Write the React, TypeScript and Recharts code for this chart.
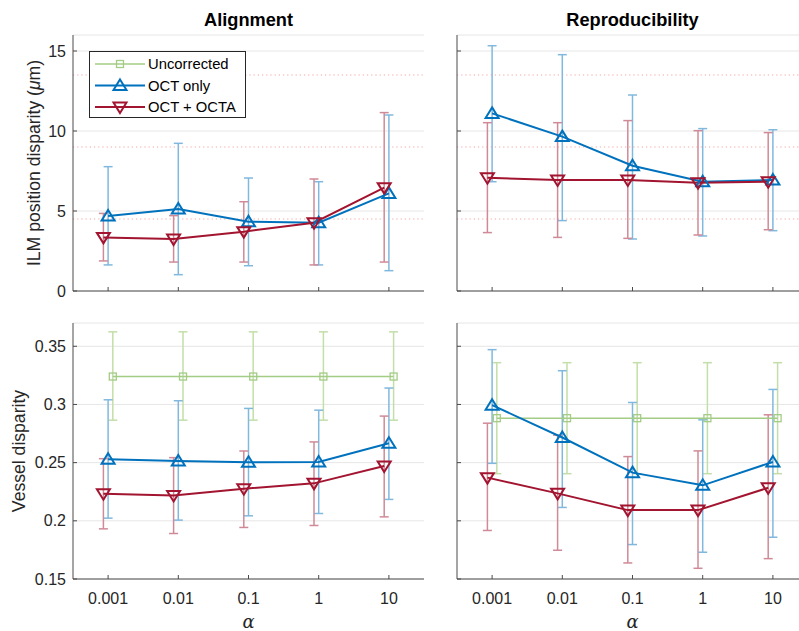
import React from "react";
import {
  LineChart,
  Line,
  XAxis,
  YAxis,
  CartesianGrid,
  ErrorBar,
  ReferenceLine,
  Label,
} from "recharts";

const ALPHA_LABELS = ["0.001", "0.01", "0.1", "1", "10"];

// ILM position disparity (um) - Alignment
const ALIGN_ILM_OCT = [4.69, 5.13, 4.33, 4.27, 6.1];
const ALIGN_ILM_OCT_LO = [1.63, 1.02, 1.58, 1.63, 1.27];
const ALIGN_ILM_OCT_HI = [7.77, 9.23, 7.06, 6.83, 11.0];
const ALIGN_ILM_OCTA = [3.35, 3.25, 3.71, 4.27, 6.46];
const ALIGN_ILM_OCTA_LO = [1.88, 1.81, 1.81, 1.63, 1.81];
const ALIGN_ILM_OCTA_HI = [4.85, 4.71, 5.58, 7.0, 11.15];

// ILM position disparity (um) - Reproducibility
const REPRO_ILM_OCT = [11.1, 9.65, 7.83, 6.83, 6.94];
const REPRO_ILM_OCT_LO = [6.83, 4.4, 3.25, 3.44, 3.77];
const REPRO_ILM_OCT_HI = [15.33, 14.77, 12.25, 10.15, 10.08];
const REPRO_ILM_OCTA = [7.08, 6.94, 6.94, 6.77, 6.83];
const REPRO_ILM_OCTA_LO = [3.65, 3.35, 3.29, 3.5, 3.83];
const REPRO_ILM_OCTA_HI = [10.52, 10.52, 10.65, 10.02, 9.9];

// uncorrected ILM disparity (mean +/- sd), shown as dotted guides
const UNCORR_ILM_GUIDES = [4.5, 9, 13.5];

// Vessel disparity - Alignment
const ALIGN_VES_UNCORR = [0.324, 0.324, 0.324, 0.324, 0.324];
const ALIGN_VES_UNCORR_LO = [0.2865, 0.2865, 0.2865, 0.2865, 0.2865];
const ALIGN_VES_UNCORR_HI = [0.3624, 0.3624, 0.3624, 0.3624, 0.3624];
const ALIGN_VES_OCT = [0.2529, 0.2514, 0.2503, 0.2506, 0.2667];
const ALIGN_VES_OCT_LO = [0.2023, 0.2006, 0.2043, 0.2063, 0.2184];
const ALIGN_VES_OCT_HI = [0.304, 0.3032, 0.2966, 0.2951, 0.3141];
const ALIGN_VES_OCTA = [0.2233, 0.2218, 0.2276, 0.2322, 0.2471];
const ALIGN_VES_OCTA_LO = [0.1931, 0.1891, 0.1943, 0.196, 0.2034];
const ALIGN_VES_OCTA_HI = [0.2534, 0.2543, 0.26, 0.2678, 0.29];

// Vessel disparity - Reproducibility
const REPRO_VES_UNCORR = [0.2882, 0.2882, 0.2882, 0.2882, 0.2882];
const REPRO_VES_UNCORR_LO = [0.2405, 0.2405, 0.2405, 0.2405, 0.2405];
const REPRO_VES_UNCORR_HI = [0.3359, 0.3359, 0.3359, 0.3359, 0.3359];
const REPRO_VES_OCT = [0.2994, 0.2716, 0.2414, 0.2305, 0.2506];
const REPRO_VES_OCT_LO = [0.2494, 0.2115, 0.1796, 0.173, 0.1859];
const REPRO_VES_OCT_HI = [0.3471, 0.329, 0.3017, 0.2868, 0.3129];
const REPRO_VES_OCTA = [0.2371, 0.2236, 0.2092, 0.2092, 0.2284];
const REPRO_VES_OCTA_LO = [0.1917, 0.1747, 0.1638, 0.1592, 0.1675];
const REPRO_VES_OCTA_HI = [0.2839, 0.2736, 0.2552, 0.2601, 0.2911];

const ILM_TICKS = [0, 5, 10, 15];
const VES_TICKS = [0.15, 0.2, 0.25, 0.3, 0.35];

const FONT = '"Liberation Sans", Arial, Helvetica, sans-serif';
const AXIS_COLOR = "#4a4a4a";
const TEXT_COLOR = "#262626";
const GRID_COLOR = "#e6e6e6";

const GREEN = "#a3cc85";
const GREEN_ERR = "#c3dea9";
const BLUE = "#0072bd";
const BLUE_ERR = "#80b8de";
const RED = "#a2142f";
const RED_ERR = "#d08a97";

// horizontal nudge (in decades) so the error bars don't sit on top of each other
const SHIFT = 0.067;

type Pt = { x: number; y: number; err: [number, number] };

function build(mean: number[], lo: number[], hi: number[], shift: number): Pt[] {
  return mean.map((m, i) => ({ x: i + shift, y: m, err: [m - lo[i], hi[i] - m] }));
}

function TriUp({ cx, cy, color }: { cx: number; cy: number; color: string }) {
  return (
    <path
      d={`M${cx},${cy - 6} L${cx + 6.5},${cy + 4.5} L${cx - 6.5},${cy + 4.5} Z`}
      fill="none"
      stroke={color}
      strokeWidth={2}
    />
  );
}

function TriDown({ cx, cy, color }: { cx: number; cy: number; color: string }) {
  return (
    <path
      d={`M${cx},${cy + 6} L${cx + 6.5},${cy - 4.5} L${cx - 6.5},${cy - 4.5} Z`}
      fill="none"
      stroke={color}
      strokeWidth={2}
    />
  );
}

function Square({ cx, cy, color }: { cx: number; cy: number; color: string }) {
  return (
    <rect x={cx - 3.5} y={cy - 3.5} width={7} height={7} fill="none" stroke={color} strokeWidth={1.3} />
  );
}

interface PanelProps {
  left: number;
  top: number;
  width: number;
  height: number;
  margin: { top: number; right: number; bottom: number; left: number };
  yAxisWidth: number;
  xAxisHeight: number;
  yDomain: [number, number];
  yTicks: number[];
  showYTicks: boolean;
  showXTicks: boolean;
  yLabel?: React.ReactNode;
  yLabelX?: number;
  xLabel?: boolean;
  uncorr?: Pt[];
  oct: Pt[];
  octa: Pt[];
  guides?: number[];
}

function Panel(p: PanelProps) {
  const whiskers: { data: Pt[]; color: string }[] = [];
  if (p.uncorr) whiskers.push({ data: p.uncorr, color: GREEN_ERR });
  whiskers.push({ data: p.oct, color: BLUE_ERR });
  whiskers.push({ data: p.octa, color: RED_ERR });

  return (
    <div style={{ position: "absolute", left: p.left, top: p.top }}>
      <LineChart width={p.width} height={p.height} margin={p.margin}>
        <CartesianGrid vertical={false} stroke={GRID_COLOR} />
        <XAxis
          dataKey="x"
          type="number"
          domain={[-0.5, 4.5]}
          ticks={[0, 1, 2, 3, 4]}
          interval={0}
          allowDataOverflow
          height={p.xAxisHeight}
          tickFormatter={(v: number) => (p.showXTicks ? ALPHA_LABELS[v] : "")}
          tickSize={-4}
          tickMargin={18}
          stroke={AXIS_COLOR}
          tick={{ fontSize: 16, fill: TEXT_COLOR }}
        >
          {p.xLabel && (
            <Label
              content={(lp: any) => {
                const vb = lp.viewBox || {};
                return (
                  <text
                    x={vb.x + vb.width / 2}
                    y={vb.y + 49}
                    textAnchor="middle"
                    fontSize={18}
                    fontStyle="italic"
                    fontFamily='"DejaVu Serif", serif'
                    fill={TEXT_COLOR}
                  >
                    α
                  </text>
                );
              }}
            />
          )}
        </XAxis>
        <YAxis
          type="number"
          domain={p.yDomain}
          ticks={p.yTicks}
          interval={0}
          allowDataOverflow
          width={p.yAxisWidth}
          tickFormatter={(v: number) => (p.showYTicks ? String(v) : "")}
          tickSize={-4}
          tickMargin={11}
          stroke={AXIS_COLOR}
          tick={{ fontSize: 16, fill: TEXT_COLOR }}
        >
          {p.yLabel && (
            <Label
              content={(lp: any) => {
                const vb = lp.viewBox || {};
                const cx = vb.x + (p.yLabelX || 0);
                const cy = vb.y + vb.height / 2;
                return (
                  <text
                    x={cx}
                    y={cy}
                    transform={`rotate(-90, ${cx}, ${cy})`}
                    textAnchor="middle"
                    fontSize={17.6}
                    fill={TEXT_COLOR}
                  >
                    {p.yLabel}
                  </text>
                );
              }}
            />
          )}
        </YAxis>
        {(p.guides || []).map((g) => (
          <ReferenceLine key={g} y={g} stroke="#f4a5a5" strokeDasharray="1.2 3" strokeWidth={1} />
        ))}
        {/* whiskers first so the curves sit on top */}
        {whiskers.map((w, i) => (
          <Line
            key={"w" + i}
            data={w.data}
            dataKey="y"
            stroke="none"
            dot={false}
            isAnimationActive={false}
          >
            <ErrorBar dataKey="err" direction="y" width={4.5} stroke={w.color} strokeWidth={1.5} />
          </Line>
        ))}
        {p.uncorr && (
          <Line
            data={p.uncorr}
            dataKey="y"
            stroke={GREEN}
            strokeWidth={1.5}
            isAnimationActive={false}
            dot={(d: any) => <Square key={d.index} cx={d.cx} cy={d.cy} color={GREEN} />}
          />
        )}
        <Line
          data={p.oct}
          dataKey="y"
          stroke={BLUE}
          strokeWidth={2}
          isAnimationActive={false}
          dot={(d: any) => <TriUp key={d.index} cx={d.cx} cy={d.cy} color={BLUE} />}
        />
        <Line
          data={p.octa}
          dataKey="y"
          stroke={RED}
          strokeWidth={2}
          isAnimationActive={false}
          dot={(d: any) => <TriDown key={d.index} cx={d.cx} cy={d.cy} color={RED} />}
        />
      </LineChart>
    </div>
  );
}

function LegendBox() {
  const rows = [
    { name: "Uncorrected", color: GREEN, w: 1.5, Marker: Square },
    { name: "OCT only", color: BLUE, w: 2, Marker: TriUp },
    { name: "OCT + OCTA", color: RED, w: 2, Marker: TriDown },
  ];
  return (
    <svg
      width={157}
      height={67}
      style={{ position: "absolute", left: 89, top: 51, background: "#fff" }}
    >
      <rect x={0.5} y={0.5} width={156} height={66} fill="#fff" stroke={TEXT_COLOR} strokeWidth={1} />
      {rows.map((r, i) => {
        const cy = 13 + i * 21.5;
        return (
          <g key={r.name}>
            <line x1={6} x2={56} y1={cy} y2={cy} stroke={r.color} strokeWidth={r.w} />
            <r.Marker cx={31} cy={cy} color={r.color} />
            <text x={59} y={cy + 5.2} fontSize={14.8} fill="#000">
              {r.name}
            </text>
          </g>
        );
      })}
    </svg>
  );
}

const titleStyle: React.CSSProperties = {
  position: "absolute",
  top: 10,
  width: 351,
  textAlign: "center",
  fontWeight: "bold",
  fontSize: 18.2,
  lineHeight: "20px",
  color: "#000",
};

export default function App() {
  const ilmLabel = (
    <>
      ILM position disparity (<tspan fontStyle="italic">μ</tspan>m)
    </>
  );

  return (
    <div
      style={{
        position: "absolute",
        left: 0,
        top: 0,
        width: 799,
        height: 631,
        overflow: "hidden",
        background: "#fff",
        fontFamily: FONT,
      }}
    >
      <Panel
        left={0}
        top={0}
        width={440}
        height={315}
        margin={{ top: 35, right: 16, bottom: 4, left: 0 }}
        yAxisWidth={73}
        xAxisHeight={20}
        yDomain={[0, 16]}
        yTicks={ILM_TICKS}
        showYTicks
        showXTicks={false}
        yLabel={ilmLabel}
        yLabelX={40}
        oct={build(ALIGN_ILM_OCT, ALIGN_ILM_OCT_LO, ALIGN_ILM_OCT_HI, 0)}
        octa={build(ALIGN_ILM_OCTA, ALIGN_ILM_OCTA_LO, ALIGN_ILM_OCTA_HI, -SHIFT)}
        guides={UNCORR_ILM_GUIDES}
      />
      <Panel
        left={420}
        top={0}
        width={420}
        height={315}
        margin={{ top: 35, right: 32, bottom: 4, left: 0 }}
        yAxisWidth={37}
        xAxisHeight={20}
        yDomain={[0, 16]}
        yTicks={ILM_TICKS}
        showYTicks={false}
        showXTicks={false}
        oct={build(REPRO_ILM_OCT, REPRO_ILM_OCT_LO, REPRO_ILM_OCT_HI, 0)}
        octa={build(REPRO_ILM_OCTA, REPRO_ILM_OCTA_LO, REPRO_ILM_OCTA_HI, -SHIFT)}
        guides={UNCORR_ILM_GUIDES}
      />
      <Panel
        left={0}
        top={315}
        width={440}
        height={316}
        margin={{ top: 8, right: 16, bottom: 0, left: 0 }}
        yAxisWidth={73}
        xAxisHeight={52}
        yDomain={[0.15, 0.37]}
        yTicks={VES_TICKS}
        showYTicks
        showXTicks
        yLabel="Vessel disparity"
        yLabelX={24.5}
        xLabel
        uncorr={build(ALIGN_VES_UNCORR, ALIGN_VES_UNCORR_LO, ALIGN_VES_UNCORR_HI, SHIFT)}
        oct={build(ALIGN_VES_OCT, ALIGN_VES_OCT_LO, ALIGN_VES_OCT_HI, 0)}
        octa={build(ALIGN_VES_OCTA, ALIGN_VES_OCTA_LO, ALIGN_VES_OCTA_HI, -SHIFT)}
      />
      <Panel
        left={420}
        top={315}
        width={420}
        height={316}
        margin={{ top: 8, right: 32, bottom: 0, left: 0 }}
        yAxisWidth={37}
        xAxisHeight={52}
        yDomain={[0.15, 0.37]}
        yTicks={VES_TICKS}
        showYTicks={false}
        showXTicks
        xLabel
        uncorr={build(REPRO_VES_UNCORR, REPRO_VES_UNCORR_LO, REPRO_VES_UNCORR_HI, SHIFT)}
        oct={build(REPRO_VES_OCT, REPRO_VES_OCT_LO, REPRO_VES_OCT_HI, 0)}
        octa={build(REPRO_VES_OCTA, REPRO_VES_OCTA_LO, REPRO_VES_OCTA_HI, -SHIFT)}
      />
      <div style={{ ...titleStyle, left: 73 }}>Alignment</div>
      <div style={{ ...titleStyle, left: 457 }}>Reproducibility</div>
      <LegendBox />
    </div>
  );
}
